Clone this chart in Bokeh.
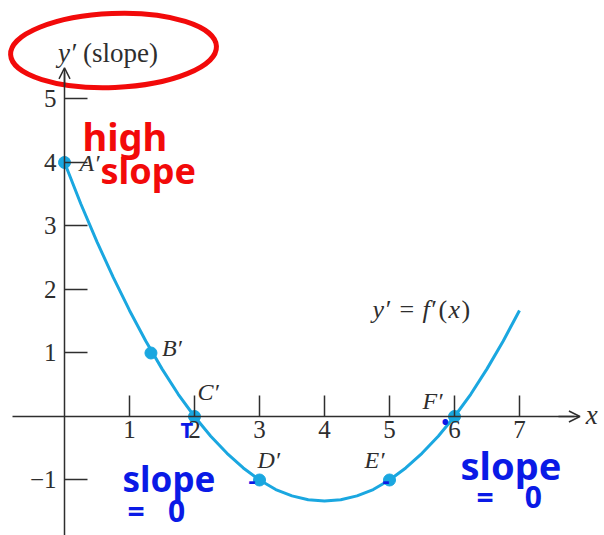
from bokeh.plotting import figure
from bokeh.models import (LinearAxis, FixedTicker, Range1d, ColumnDataSource,
                          Label, Arrow, OpenHead)
from bokeh.embed import file_html
from bokeh.resources import INLINE
from bokeh.core.properties import value

# y' = f'(x), read at quarter-unit steps
curve_x = [0, 0.25, 0.5, 0.75, 1, 1.25, 1.5, 1.75, 2, 2.25, 2.5, 2.75, 3, 3.25,
           3.5, 3.75, 4, 4.25, 4.5, 4.75, 5, 5.25, 5.5, 5.75, 6, 6.25, 6.5, 6.75, 7]
curve_y = [4.0, 3.35, 2.75, 2.19, 1.67, 1.19, 0.75, 0.35, 0.0, -0.31, -0.58, -0.81,
           -1.0, -1.15, -1.25, -1.31, -1.33, -1.31, -1.25, -1.15, -1.0, -0.81, -0.58,
           -0.31, 0.0, 0.35, 0.75, 1.19, 1.67]

# labelled points on the curve
pt_names = ["A′", "B′", "C′", "D′", "E′", "F′"]
pt_x = [0, 1.33, 2, 3, 5, 6]
pt_y = [4, 1, 0, -1, -1, 0]

x_ticks = [1, 2, 3, 4, 5, 6, 7]
y_ticks = [-1, 1, 2, 3, 4, 5]

W, H = 604, 535
INK = "#2E2E2E"
CURVE = "#1AA7E0"
SERIF = "Liberation Serif"
RED = "#F20A0A"
BLUE = "#0A1AE6"
NBSP = "\u00a0"

p = figure(width=W, height=H, output_backend="svg", toolbar_location=None,
           x_range=Range1d(-0.985, 8.308), y_range=Range1d(-1.874, 6.551),
           x_axis_location=None, y_axis_location=None, min_border=0)
p.grid.visible = False
p.outline_line_color = None
p.background_fill_color = "white"

# axes crossing at the origin
axis_style = dict(minor_tick_line_color=None, axis_line_color=INK,
                  axis_line_width=1.5, major_tick_line_color=INK,
                  major_tick_line_width=1.5, major_tick_out=0,
                  major_label_text_font=SERIF, major_label_text_font_size="25px",
                  major_label_text_color=INK)
xaxis = LinearAxis(fixed_location=0, ticker=FixedTicker(ticks=x_ticks),
                   bounds=(-0.8, 7.85), major_tick_in=21,
                   major_label_standoff=5, **axis_style)
yaxis = LinearAxis(fixed_location=0, ticker=FixedTicker(ticks=y_ticks),
                   bounds=(-1.9, 5.42), major_tick_in=23,
                   major_label_standoff=8,
                   major_label_overrides={-1: "\u22121"}, **axis_style)
p.add_layout(xaxis, "below")
p.add_layout(yaxis, "left")

p.add_layout(Arrow(end=OpenHead(size=11, line_color=INK, line_width=1.5),
                   x_start=7.6, y_start=0, x_end=7.93, y_end=0,
                   line_color=INK, line_width=1.5))
p.add_layout(Arrow(end=OpenHead(size=11, line_color=INK, line_width=1.5),
                   x_start=0, y_start=5.2, x_end=0, y_end=5.49,
                   line_color=INK, line_width=1.5))

# curve and its points
p.line(curve_x, curve_y, line_color=CURVE, line_width=3)
pts = ColumnDataSource(dict(x=pt_x, y=pt_y, name=pt_names,
                            dx=[15, 11, 3, -2, -25, -32],
                            dy=[1, -5, -24, -20, -20, -15]))
p.scatter("x", "y", source=pts, size=12, fill_color=CURVE, line_color=CURVE)
p.text("x", "y", text="name", source=pts, x_offset="dx", y_offset="dy",
       text_font=value(SERIF), text_font_style="italic", text_font_size="24px",
       text_color=INK, text_baseline="middle", text_align="left")


def serif(x, y, text, dx=0, italic=True, size="26px"):
    p.add_layout(Label(x=x, y=y, x_offset=dx, text=text, text_font=SERIF,
                       text_font_style="italic" if italic else "normal",
                       text_font_size=size, text_color=INK,
                       text_baseline="middle"))


# axis titles
serif(-0.1, 5.73, "y′", size="27px")
serif(-0.1, 5.73, "(slope)", dx=25, italic=False, size="27px")
p.add_layout(Label(x=8.02, y=0.02, text="x", text_font=SERIF,
                   text_font_style="italic", text_font_size="27px",
                   text_color=INK, text_baseline="alphabetic"))

# curve label y' = f'(x)
lx, ly = 4.74, 1.685
serif(lx, ly, "y′")
serif(lx, ly, "=", dx=27, italic=False)
serif(lx, ly, "f′", dx=50)
serif(lx, ly, "(", dx=66, italic=False)
serif(lx, ly, "x", dx=76)
serif(lx, ly, ")", dx=89, italic=False)

# hand-written notes
p.ellipse(x=[0.754], y=[5.764], width=[206], height=[74], angle=[0.04],
          width_units="screen", height_units="screen", fill_color=None,
          line_color=RED, line_width=5)


def note(x, y, text, color, size="36px"):
    p.add_layout(Label(x=x, y=H - y, x_units="screen", y_units="screen",
                       text=text, text_font="Noto Sans", text_font_style="bold",
                       text_font_size=size, text_color=color,
                       text_baseline="middle"))


note(82, 135, "high", RED, "38px")
note(100, 170, "slope", RED)
note(122, 478, "slope", BLUE, "35px")
note(127, 510, "=" + NBSP * 3 + "0", BLUE, "30px")
note(460, 464, "slope", BLUE, "38px")
note(476, 496, "=" + NBSP * 4 + "0", BLUE, "30px")
note(180, 428, "T", BLUE, "22px")
note(248, 480, "-", BLUE, "22px")
note(382, 480, "-", BLUE, "22px")
note(441, 421, "•", BLUE, "20px")

open("out.html", "w").write(file_html(p, INLINE))
